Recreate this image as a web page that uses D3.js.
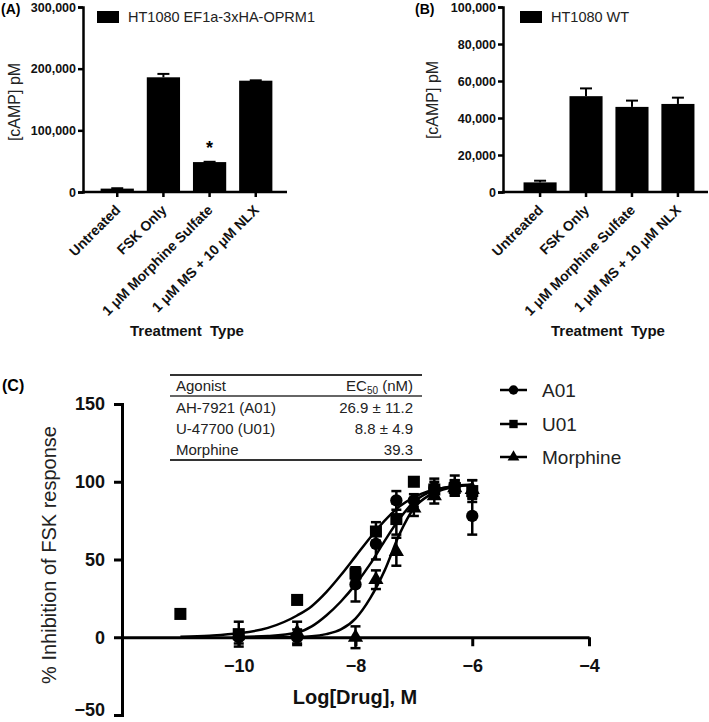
<!DOCTYPE html>
<html>
<head>
<meta charset="utf-8">
<script src="https://cdn.jsdelivr.net/npm/d3@7"></script>
<style>
  html, body { margin: 0; padding: 0; background: #fff; }
  svg { display: block; font-family: "Liberation Sans", Arial, Helvetica, sans-serif; }
</style>
</head>
<body>
<svg id="chart" width="709" height="722"></svg>
<script>
// ---------- DATA ----------
const categories = ["Untreated", "FSK Only", "1 μM Morphine Sulfate", "1 μM MS + 10 μM NLX"];
const panelAValues = [5500, 186000, 48500, 180500];
const panelAErrors = [600, 5500, 500, 600];
const panelATicks = [0, 100000, 200000, 300000];
const panelASeries = "HT1080 EF1a-3xHA-OPRM1";

const panelBValues = [5200, 51800, 46000, 47600];
const panelBErrors = [900, 4200, 3400, 3400];
const panelBTicks = [0, 20000, 40000, 60000, 80000, 100000];
const panelBSeries = "HT1080 WT";

const cXTicks = [-10, -8, -6, -4];
const cYTicks = [-50, 0, 50, 100, 150];

// measured points: [log dose, mean, sem]
const a01Points = [[-10, 0, 4], [-9, 0, 5], [-8, 34, 11], [-7.65, 60, 10], [-7.3, 88, 6], [-7, 88, 4], [-6.65, 96, 6], [-6.3, 98, 6], [-6, 78, 12]];
const u01Points = [[-11, 15, 0], [-10, 2, 8], [-9, 24, 0], [-8, 41, 4], [-7.65, 68, 6], [-7.3, 76, 10], [-7, 100, 0], [-6.65, 95, 5], [-6.3, 96, 5], [-6, 94, 7]];
const morphPoints = [[-9, 3, 7], [-8, 0, 7], [-7.65, 37, 6], [-7.3, 55, 9], [-7, 83, 5], [-6.65, 91, 5], [-6.3, 96, 5], [-6, 95, 6]];

// fitted curves: [log dose, % inhibition]
const a01Curve = [[-10, 0.2], [-9.5, 0.8], [-9, 3], [-8.75, 7], [-8.5, 14], [-8.25, 23], [-8, 34], [-7.75, 47], [-7.5, 62], [-7.25, 76], [-7, 87], [-6.75, 93], [-6.5, 96], [-6.25, 97.5], [-6, 98]];
const u01Curve = [[-11, 0.3], [-10.5, 1], [-10, 2.5], [-9.5, 6], [-9, 14], [-8.75, 20], [-8.5, 29], [-8.25, 40], [-8, 52], [-7.75, 64], [-7.5, 75], [-7.25, 84], [-7, 90], [-6.75, 94], [-6.5, 96], [-6.25, 97.5], [-6, 98]];
const morphCurve = [[-10, 0], [-9, 0.2], [-8.75, 0.6], [-8.5, 2], [-8.25, 5], [-8, 12], [-7.75, 25], [-7.5, 43], [-7.25, 66], [-7, 83], [-6.75, 91], [-6.5, 95], [-6.25, 97], [-6, 98]];

const legendNames = ["A01", "U01", "Morphine"];
const tableAgonists = ["AH-7921 (A01)", "U-47700 (U01)", "Morphine"];
const tableEC50 = ["26.9 ± 11.2", "8.8 ± 4.9", "39.3"];

// ---------- DRAW ----------
const svg = d3.select("#chart");
const fmt = d3.format(",");
const SW = 2.5;

function barPanel(opts) {
  const g = svg.append("g");
  const x = d3.scaleBand().domain(categories).range(opts.xRange).paddingInner(0.28).paddingOuter(0.36);
  const y = d3.scaleLinear().domain([0, opts.max]).range([192, 7]);

  g.selectAll("rect.bar").data(opts.values).join("rect")
    .attr("x", (d, i) => x(categories[i]))
    .attr("width", x.bandwidth())
    .attr("y", d => y(d))
    .attr("height", d => y(0) - y(d))
    .attr("fill", "#000");
  opts.values.forEach((v, i) => {
    const cx = x(categories[i]) + x.bandwidth() / 2;
    g.append("line").attr("x1", cx).attr("x2", cx).attr("y1", y(v)).attr("y2", y(v + opts.errors[i]))
      .attr("stroke", "#000").attr("stroke-width", 2);
    g.append("line").attr("x1", cx - 6).attr("x2", cx + 6).attr("y1", y(v + opts.errors[i])).attr("y2", y(v + opts.errors[i]))
      .attr("stroke", "#000").attr("stroke-width", 2);
  });

  const ya = g.append("g").attr("transform", `translate(${opts.axisX},0)`)
    .call(d3.axisLeft(y).tickValues(opts.ticks).tickFormat(fmt).tickSize(5).tickPadding(2));
  ya.select(".domain").attr("stroke-width", SW);
  ya.selectAll(".tick line").attr("stroke-width", SW);
  ya.selectAll("text").attr("font-size", 12.5).attr("font-weight", "bold").attr("fill", "#111");

  g.append("line").attr("x1", opts.axisX - 1).attr("x2", opts.axisEnd).attr("y1", 192).attr("y2", 192)
    .attr("stroke", "#000").attr("stroke-width", SW);
  const xa = g.append("g").attr("transform", "translate(0,192)")
    .call(d3.axisBottom(x).tickSize(5).tickFormat(""));
  xa.select(".domain").remove();
  xa.selectAll(".tick line").attr("stroke-width", SW);
  categories.forEach(c => {
    const cx = x(c) + x.bandwidth() / 2;
    g.append("text").attr("transform", `translate(${cx + 4},211) rotate(-45)`)
      .attr("text-anchor", "end").attr("font-size", 14).attr("font-weight", "bold").attr("fill", "#111")
      .text(c);
  });

  g.append("text").attr("transform", `translate(${opts.yLabelX},${opts.yLabelY}) rotate(-90)`)
    .attr("text-anchor", "middle").attr("font-size", 16).attr("fill", "#222").text("[cAMP] pM");
  g.append("text").attr("x", opts.titleX).attr("y", 336).attr("text-anchor", "middle")
    .attr("font-size", 15).attr("font-weight", "bold").attr("fill", "#111")
    .style("white-space", "pre").text("Treatment  Type");

  g.append("text").attr("x", opts.letterX).attr("y", 14).attr("font-size", 14).attr("font-weight", "bold").text(opts.letter);

  g.append("rect").attr("x", opts.legX).attr("y", 11).attr("width", 22).attr("height", 12).attr("fill", "#000");
  g.append("text").attr("x", opts.legX + 31).attr("y", 22).attr("font-size", 14.5).attr("fill", "#222").text(opts.series);

  return {x, y, g};
}

const A = barPanel({values: panelAValues, errors: panelAErrors, ticks: panelATicks, max: 300000,
  xRange: [84, 289], axisX: 83, axisEnd: 287, yLabelX: 20, yLabelY: 102, titleX: 187,
  letter: "(A)", letterX: 1, legX: 97, series: panelASeries});
A.g.append("text").attr("x", A.x(categories[2]) + A.x.bandwidth() / 2).attr("y", A.y(panelAValues[2]) - 8)
  .attr("text-anchor", "middle").attr("font-size", 18).attr("font-weight", "bold").text("*");

barPanel({values: panelBValues, errors: panelBErrors, ticks: panelBTicks, max: 100000,
  xRange: [507, 711], axisX: 503, axisEnd: 708, yLabelX: 438, yLabelY: 100, titleX: 608,
  letter: "(B)", letterX: 415, legX: 520, series: panelBSeries});

// ---------- PANEL C ----------
const gc = svg.append("g");
const xc = d3.scaleLinear().domain([-12, -4]).range([122, 589]);
const yc = d3.scaleLinear().domain([-50, 150]).range([715, 404]);

const yAx = gc.append("g").attr("transform", "translate(122,0)")
  .call(d3.axisLeft(yc).tickValues(cYTicks).tickSize(8).tickPadding(9));
yAx.select(".domain").attr("stroke-width", 3);
yAx.selectAll(".tick line").attr("stroke-width", 3);
yAx.selectAll("text").attr("font-size", 18).attr("font-weight", "bold").attr("fill", "#111");
yAx.selectAll(".tick").filter(d => d === -50).select("text").attr("dy", "0.05em");

const xAx = gc.append("g").attr("transform", `translate(0,${yc(0)})`)
  .call(d3.axisBottom(xc).tickValues(cXTicks).tickSize(9).tickPadding(13).tickSizeOuter(0));
xAx.select(".domain").attr("stroke-width", 3);
xAx.selectAll(".tick line").attr("stroke-width", 3);
xAx.selectAll("text").attr("font-size", 18).attr("font-weight", "bold").attr("fill", "#111");

gc.append("text").attr("x", 355).attr("y", 704).attr("text-anchor", "middle")
  .attr("font-size", 20).attr("font-weight", "bold").attr("fill", "#111").text("Log[Drug], M");
gc.append("text").attr("transform", "translate(56,555) rotate(-90)").attr("text-anchor", "middle")
  .attr("font-size", 20).attr("fill", "#222").text("% Inhibition of FSK response");
gc.append("text").attr("x", 2).attr("y", 391).attr("font-size", 16).attr("font-weight", "bold").text("(C)");

const line = d3.line().x(d => xc(d[0])).y(d => yc(d[1])).curve(d3.curveMonotoneX);
[u01Curve, a01Curve, morphCurve].forEach(c => {
  gc.append("path").attr("d", line(c)).attr("fill", "none").attr("stroke", "#000").attr("stroke-width", 2.5);
});

const seriesDefs = [
  {pts: a01Points, sym: d3.symbolCircle, size: 120},
  {pts: u01Points, sym: d3.symbolSquare, size: 145},
  {pts: morphPoints, sym: d3.symbolTriangle, size: 100}
];
seriesDefs.forEach(s => {
  s.pts.forEach(p => {
    const cx = xc(p[0]);
    if (p[2] > 0) {
      const y1 = yc(p[1] - p[2]), y2 = yc(p[1] + p[2]);
      gc.append("line").attr("x1", cx).attr("x2", cx).attr("y1", y1).attr("y2", y2).attr("stroke", "#000").attr("stroke-width", 2.5);
      [y1, y2].forEach(yy => gc.append("line").attr("x1", cx - 5).attr("x2", cx + 5).attr("y1", yy).attr("y2", yy)
        .attr("stroke", "#000").attr("stroke-width", 2.5));
    }
    gc.append("path").attr("transform", `translate(${cx},${yc(p[1])})`)
      .attr("d", d3.symbol().type(s.sym).size(s.size)()).attr("fill", "#000");
  });
});

const legSyms = [d3.symbolCircle, d3.symbolSquare, d3.symbolTriangle];
const legY = [390, 424, 457];
legendNames.forEach((n, i) => {
  gc.append("line").attr("x1", 500).attr("x2", 527).attr("y1", legY[i]).attr("y2", legY[i]).attr("stroke", "#000").attr("stroke-width", 2.5);
  gc.append("path").attr("transform", `translate(513.5,${legY[i]})`)
    .attr("d", d3.symbol().type(legSyms[i]).size(i === 2 ? 60 : 70)()).attr("fill", "#000");
  gc.append("text").attr("x", 542).attr("y", legY[i] + 7).attr("font-size", 19).attr("fill", "#222").text(n);
});

const tL = 170, tR = 422;
[375, 396, 460].forEach((yy, i) => {
  gc.append("line").attr("x1", tL).attr("x2", tR).attr("y1", yy).attr("y2", yy)
    .attr("stroke", "#333").attr("stroke-width", i === 1 ? 1.5 : 2);
});
gc.append("text").attr("x", 176).attr("y", 391).attr("font-size", 15).attr("fill", "#222").text("Agonist");
const hdr = gc.append("text").attr("x", 413).attr("y", 391).attr("text-anchor", "end").attr("font-size", 15).attr("fill", "#222");
hdr.append("tspan").text("EC");
hdr.append("tspan").attr("font-size", 10).attr("dy", 3).text("50");
hdr.append("tspan").attr("dy", -3).text(" (nM)");
const rowY = [413, 434, 455];
tableAgonists.forEach((a, i) => {
  gc.append("text").attr("x", 176).attr("y", rowY[i]).attr("font-size", 15).attr("fill", "#222").text(a);
  gc.append("text").attr("x", 413).attr("y", rowY[i]).attr("text-anchor", "end").attr("font-size", 15).attr("fill", "#222").text(tableEC50[i]);
});
</script>
</body>
</html>
